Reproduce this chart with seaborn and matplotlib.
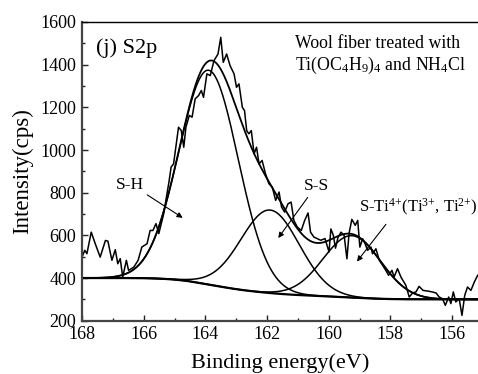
import numpy as np
import pandas as pd
import matplotlib
matplotlib.use("Agg")
import matplotlib.pyplot as plt
import seaborn as sns

# ---- raw spectrum ----
energy = [168.00, 167.91, 167.84, 167.70, 167.57, 167.41, 167.24, 167.16, 167.03, 166.92,
          166.84, 166.76, 166.68, 166.56, 166.49, 166.32, 166.18, 166.06, 165.89, 165.79,
          165.70, 165.60, 165.51, 165.35, 165.25, 165.18, 165.11, 165.03, 164.87, 164.78,
          164.70, 164.63, 164.52, 164.43, 164.33, 164.22, 164.13, 164.06, 163.95, 163.84,
          163.72, 163.59, 163.50, 163.42, 163.31, 163.20, 163.07, 162.99, 162.91, 162.80,
          162.73, 162.66, 162.59, 162.51, 162.42, 162.34, 162.26, 162.16, 162.05, 161.94,
          161.83, 161.72, 161.61, 161.53, 161.43, 161.32, 161.22, 161.13, 161.02, 160.89,
          160.78, 160.67, 160.59, 160.48, 160.26, 160.12, 159.99, 159.93, 159.85, 159.78,
          159.70, 159.60, 159.50, 159.41, 159.34, 159.25, 159.14, 159.06, 158.99, 158.90,
          158.82, 158.74, 158.63, 158.58, 158.47, 158.36, 158.25, 158.15, 158.06, 157.95,
          157.88, 157.77, 157.66, 157.50, 157.39, 157.28, 157.17, 157.07, 156.94, 156.79,
          156.65, 156.52, 156.42, 156.31, 156.22, 156.11, 156.04, 155.96, 155.88, 155.77,
          155.68, 155.59, 155.50, 155.39, 155.28, 155.17]
counts = [498, 530, 514, 615, 561, 498, 576, 573, 483, 533,
          467, 491, 405, 483, 436, 451, 483, 545, 561, 623,
          623, 655, 608, 701, 790, 850, 920, 935, 1107, 1091,
          1013, 1107, 1162, 1154, 1240, 1255, 1279, 1247, 1357, 1349,
          1419, 1450, 1528, 1411, 1450, 1396, 1357, 1294, 1310, 1200,
          1185, 1091, 1076, 1091, 982, 1013, 935, 951, 889, 842,
          826, 764, 803, 733, 709, 748, 756, 670, 639, 623,
          670, 705, 615, 592, 577, 585, 522, 630, 600, 540,
          590, 615, 600, 490, 610, 675, 647, 670, 545, 584,
          561, 530, 545, 514, 537, 483, 459, 436, 413, 436,
          405, 444, 405, 366, 311, 330, 335, 361, 342, 339,
          335, 330, 311, 303, 272, 311, 280, 335, 288, 303,
          225, 319, 358, 342, 381, 413]

# ---- fitted components (Gaussian peaks on a Shirley background) ----
peak_names = ["S-H", "S-S", "S-Ti"]
peak_centers = [163.89, 161.90, 159.25]
peak_heights = [1004, 389, 290]
peak_sigmas = [0.96, 0.95, 0.93]
bg_high, bg_low = 400, 300

x_fit = np.linspace(155.0, 168.2, 700)
comps = [h * np.exp(-(x_fit - c) ** 2 / (2 * s ** 2))
         for c, h, s in zip(peak_centers, peak_heights, peak_sigmas)]
total_peaks = np.sum(comps, axis=0)
cum = np.cumsum(total_peaks)
bg = bg_low + (bg_high - bg_low) * cum / cum[-1]
envelope = bg + total_peaks

plt.rcParams["font.family"] = ["Liberation Serif", "DejaVu Serif"]
plt.rcParams["mathtext.fontset"] = "custom"
plt.rcParams["mathtext.rm"] = "Liberation Serif"
plt.rcParams["mathtext.it"] = "Liberation Serif:italic"

fig = plt.figure(figsize=(4.78, 3.74), dpi=100)
ax = fig.add_axes([0.1715, 0.1425, 0.8285, 0.7987])

raw_df = pd.DataFrame({"E": energy, "I": counts})
sns.lineplot(data=raw_df, x="E", y="I", ax=ax, color="black", lw=1.1,
             sort=False, estimator=None)
sns.lineplot(x=x_fit, y=bg, ax=ax, color="black", lw=1.6, sort=False, estimator=None)
for comp in comps:
    sns.lineplot(x=x_fit, y=bg + comp, ax=ax, color="black", lw=1.1,
                 sort=False, estimator=None)
sns.lineplot(x=x_fit, y=envelope, ax=ax, color="black", lw=1.3, sort=False, estimator=None)

ax.set_xlim(168, 155.16)
ax.set_ylim(200, 1600)
ax.set_xticks([168, 166, 164, 162, 160, 158, 156])
ax.set_xticks(np.arange(157, 168, 2), minor=True)
ax.set_yticks(np.arange(200, 1601, 200))
ax.set_yticks(np.arange(300, 1600, 200), minor=True)
ax.tick_params(which="both", direction="in", labelsize=13, colors="#222222",
               labelcolor="black")
ax.tick_params(which="major", length=4.5, width=1.0)
ax.tick_params(which="minor", length=2.5, width=1.0)
ax.tick_params(axis="x", pad=4)
ax.tick_params(axis="y", pad=4)
for side in ["left", "bottom"]:
    ax.spines[side].set_linewidth(1.6)
    ax.spines[side].set_color("#444444")
ax.spines["top"].set_linewidth(1.0)
ax.spines["top"].set_color("black")
ax.spines["right"].set_visible(False)

ax.set_xlabel("Binding energy(eV)", fontsize=16, labelpad=7)
ax.set_ylabel("Intensity(cps)", fontsize=16.5, labelpad=5)

ax.text(167.53, 1476, "(j) S2p", fontsize=16, va="center", ha="left")
ax.text(161.10, 1500, "Wool fiber treated with", fontsize=12.8, va="center", ha="left")
ax.text(161.10, 1397, r"Ti(OC$_4$H$_9$)$_4$ and NH$_4$Cl", fontsize=12.8,
        va="center", ha="left")

ax.text(166.44, 834, "S-H", fontsize=12.5, ha="center", va="center")
ax.annotate("", xy=(164.66, 675), xytext=(165.96, 797),
            arrowprops=dict(arrowstyle="-|>", color="black", lw=0.8,
                            mutation_scale=8))
ax.text(160.39, 830, "S-S", fontsize=12.5, ha="center", va="center")
ax.annotate("", xy=(161.69, 577), xytext=(160.63, 788),
            arrowprops=dict(arrowstyle="-|>", color="black", lw=0.8,
                            mutation_scale=8))
ax.text(159.01, 733, r"S-Ti$^{4{+}}$(Ti$^{3{+}}$, Ti$^{2{+}}$)", fontsize=12,
        ha="left", va="center")
ax.annotate("", xy=(159.14, 467), xytext=(158.09, 662),
            arrowprops=dict(arrowstyle="-|>", color="black", lw=0.8,
                            mutation_scale=8))

fig.savefig("out.png", dpi=100)
